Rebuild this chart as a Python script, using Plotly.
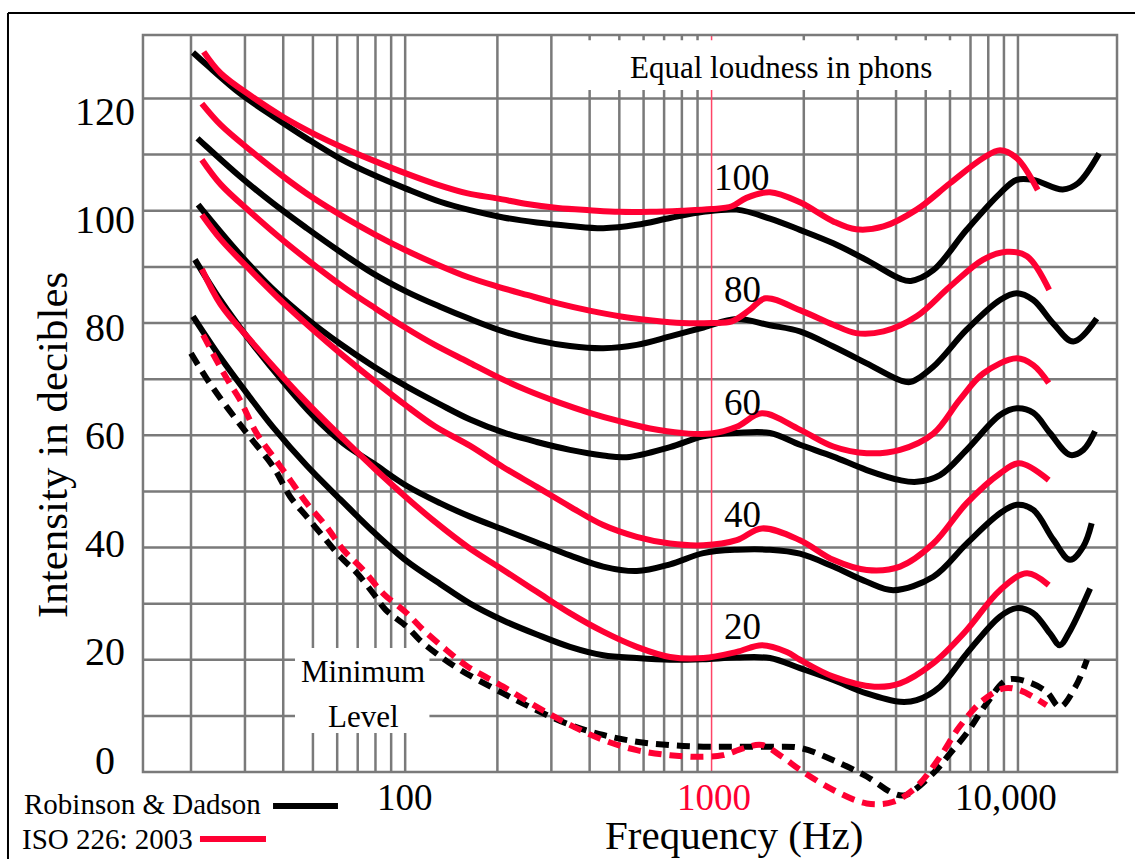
import math
import plotly.graph_objects as go

# ---------------- data ----------------
# Robinson & Dadson contours (black), frequency in Hz, level in dB
rd100_f = [20.3, 22.5, 28.9, 37.1, 47.7, 61.3, 78.7, 101, 130, 163, 209, 269, 345, 443, 570, 732, 940, 1208, 1551, 1943, 2496, 3208, 4122, 4470, 5290, 6800, 8740, 9900, 11220, 14000, 15700, 18400]
rd100_db = [128.2, 126.0, 120.9, 116.8, 112.9, 109.3, 106.4, 103.9, 101.6, 100.1, 98.8, 97.9, 97.3, 96.9, 97.5, 98.7, 99.8, 100.2, 98.6, 96.6, 94.2, 91.2, 87.9, 87.5, 89.4, 96.6, 103.1, 105.5, 105.5, 103.8, 104.9, 110.2]

rd80_f = [21.0, 22.5, 28.9, 37.1, 47.7, 61.3, 78.7, 101, 130, 163, 209, 269, 345, 443, 570, 732, 940, 1208, 1551, 1943, 2496, 3208, 4122, 4470, 5290, 6800, 8740, 9900, 11220, 13040, 15160, 18070]
rd80_db = [112.9, 111.4, 106.1, 101.3, 96.9, 92.7, 88.8, 85.6, 82.9, 80.7, 78.5, 76.9, 75.9, 75.5, 76.1, 77.6, 79.2, 80.7, 79.6, 78.5, 75.8, 72.8, 69.8, 69.5, 72.2, 78.8, 84.1, 85.3, 84.1, 79.9, 76.7, 80.8]

rd60_f = [21.1, 22.5, 28.9, 37.1, 47.7, 61.3, 78.7, 101, 130, 163, 209, 269, 345, 443, 528, 732, 940, 1208, 1551, 1943, 2496, 3208, 4122, 4671, 5566, 6802, 8736, 9904, 11220, 12720, 14790, 16350, 17840]
rd60_db = [101.1, 99.2, 92.2, 86.0, 80.8, 76.3, 72.3, 68.7, 65.5, 62.8, 60.5, 58.8, 57.4, 56.4, 56.1, 57.9, 59.8, 60.4, 60.4, 58.3, 56.2, 53.8, 52.0, 51.7, 52.9, 57.4, 63.6, 64.8, 64.0, 60.4, 56.5, 57.4, 60.7]

rd40_f = [20.6, 25, 31.5, 40, 50, 63, 78.7, 101, 130, 163, 209, 269, 345, 443, 570, 732, 940, 1208, 1551, 1943, 2496, 3208, 3920, 5293, 6802, 8736, 9904, 11220, 13040, 14790, 16350, 17400]
rd40_db = [91.3, 84.0, 76.5, 69.5, 63.5, 58.5, 55.0, 51.0, 47.9, 45.5, 43.2, 40.9, 38.6, 36.6, 35.8, 37.0, 39.0, 39.6, 39.6, 38.9, 36.6, 33.9, 32.4, 34.8, 40.7, 46.1, 47.6, 46.7, 41.4, 37.8, 40.2, 44.3]

rd20_f = [20.3, 25, 31.1, 37.1, 47.7, 61.3, 69.7, 78.7, 101, 130, 163, 209, 269, 345, 443, 570, 732, 940, 1208, 1551, 1943, 2496, 3208, 4122, 4671, 5566, 6802, 8736, 9904, 11220, 12720, 13700, 14630, 17200]
rd20_db = [81.2, 73.8, 66.8, 61.4, 54.6, 48.6, 45.6, 42.8, 37.6, 33.5, 30.0, 27.0, 24.5, 22.3, 20.8, 20.3, 20.0, 20.1, 20.4, 20.3, 18.5, 16.4, 14.0, 12.5, 12.8, 15.2, 21.1, 27.7, 29.2, 28.3, 24.7, 22.6, 24.7, 32.7]

rd_min_f = [20, 22.5, 25, 28.2, 31.1, 37.1, 42.2, 47.7, 54.1, 61.3, 69.7, 78.7, 86.4, 101.2, 111.6, 126.5, 151.2, 209, 269, 345, 443, 570, 732, 940, 1208, 1551, 1943, 2496, 3208, 3920, 4300, 5293, 6000, 6802, 7900, 9200, 10700, 12400, 13700, 15400, 16800]
rd_min_db = [74.6, 70.1, 66.5, 62.7, 59.7, 54.4, 49.0, 45.5, 41.9, 38.4, 35.4, 31.8, 28.9, 25.9, 23.5, 21.1, 18.2, 14.0, 11.0, 8.4, 6.6, 5.4, 4.8, 4.5, 4.5, 4.5, 4.3, 2.1, -0.8, -3.8, -4.1, -0.2, 3.3, 6.9, 12.2, 16.4, 16.1, 14.3, 11.6, 15.2, 20.0]

# ISO 226:2003 contours (red)
iso100_f = [22, 25, 31.5, 40, 50, 63, 80, 100, 125, 160, 200, 250, 315, 400, 500, 630, 800, 1000, 1165, 1300, 1551, 1943, 2496, 2960, 3640, 4670, 6000, 7700, 8740, 9900, 11600]
iso100_db = [128.3, 124.5, 120.4, 116.7, 113.8, 111.2, 108.8, 106.7, 104.8, 103.1, 102.2, 101.2, 100.5, 100.1, 99.8, 99.8, 100.0, 100.3, 100.8, 102.3, 103.3, 101.5, 98.1, 96.7, 97.2, 100.2, 104.9, 109.4, 110.8, 109.4, 103.7]

iso80_f = [21.7, 25, 31.5, 40, 50, 63, 80, 100, 125, 160, 200, 250, 315, 400, 500, 630, 800, 1000, 1165, 1330, 1500, 1943, 2496, 2960, 3640, 4670, 6000, 7700, 9190, 10700, 12640]
iso80_db = [119.1, 115.3, 110.6, 106.1, 102.3, 98.9, 95.7, 93.0, 90.6, 88.2, 86.5, 85.0, 83.5, 82.2, 81.2, 80.5, 80.0, 80.0, 80.3, 82.3, 84.4, 82.3, 79.7, 78.2, 78.5, 81.2, 86.5, 91.3, 92.7, 91.9, 85.9]

iso60_f = [21.7, 25, 31.5, 40, 50, 63, 80, 100, 125, 160, 200, 250, 315, 400, 500, 630, 800, 1000, 1208, 1460, 1943, 2496, 3208, 4122, 5293, 6450, 7700, 9900, 11220, 12600]
iso60_db = [109.1, 104.7, 99.6, 94.7, 90.5, 86.4, 82.6, 79.2, 76.1, 73.1, 70.4, 68.0, 65.9, 64.0, 62.5, 61.2, 60.4, 60.3, 61.5, 63.9, 61.0, 58.0, 56.8, 57.4, 60.3, 66.3, 71.0, 73.7, 72.5, 69.3]

iso40_f = [21.7, 25, 31.5, 40, 50, 63, 80, 100, 125, 163, 209, 269, 345, 443, 570, 732, 940, 1208, 1460, 1943, 2496, 3208, 4122, 5293, 6802, 8736, 10100, 12600]
iso40_db = [99.3, 94.9, 89.2, 83.6, 78.8, 74.1, 69.5, 65.4, 61.6, 58.1, 54.3, 50.8, 47.3, 44.0, 41.9, 40.7, 40.4, 41.3, 43.4, 41.3, 37.8, 36.0, 36.6, 40.7, 47.9, 53.2, 55.0, 52.0]

iso20_f = [21.7, 25, 31.5, 40, 50, 63, 80, 100, 125, 160, 209, 269, 345, 443, 570, 732, 940, 1208, 1460, 1760, 1943, 2496, 3400, 4122, 5293, 6802, 8736, 10700, 12600]
iso20_db = [89.6, 83.3, 76.7, 70.3, 64.7, 59.3, 53.9, 49.1, 44.6, 40.1, 36.0, 32.1, 28.3, 25.0, 22.3, 20.5, 20.3, 21.4, 22.6, 21.4, 20.0, 17.0, 15.2, 15.8, 19.4, 25.3, 32.4, 35.4, 33.3]

iso_min_f = [21.9, 24.2, 26.7, 28.9, 32.8, 37.1, 42.2, 47.7, 55.4, 62.8, 73.0, 84.8, 101.2, 114.6, 136.6, 158.8, 209, 269, 345, 443, 570, 732, 940, 1090, 1268, 1460, 1700, 1943, 2496, 3208, 3920, 4671, 5566, 6450, 7700, 8970, 10100, 12400]
iso_min_db = [77.9, 73.4, 69.3, 66.3, 60.3, 56.2, 52.0, 47.9, 43.7, 39.6, 36.0, 31.8, 28.3, 25.3, 21.7, 18.9, 15.2, 11.6, 8.4, 5.7, 3.9, 3.0, 2.7, 3.0, 4.2, 4.8, 2.7, 0.4, -3.2, -5.6, -5.3, -2.6, 2.7, 8.1, 12.8, 14.9, 14.6, 11.9]

phon_labels = [100, 80, 60, 40, 20]
y_tick_vals = [0, 20, 40, 60, 80, 100, 120]
x_tick_vals = [100, 1000, 10000]
x_tick_text = ["100", "1000", "10,000"]
grid_db = [10, 20, 30, 40, 50, 60, 70, 80, 90, 100, 110, 120]
grid_freqs = [20, 30, 40, 50, 60, 70, 80, 90, 100,
              200, 300, 400, 500, 600, 700, 800, 900,
              2000, 3000, 4000, 5000, 6000, 7000, 8000, 9000, 10000]

# ---------------- styling ----------------
BLACK = "#000000"
RED = "#ff0033"
GRID = "#7a7a7a"
FONT = "Liberation Serif, Times New Roman, serif"
F_LO, F_HI = 13.94, 21050     # frequency extent of the framed grid
DB_TOP = 131.3                # top of the framed grid

fig = go.Figure()


def add_curve(f, db, color, dash=None, width=6):
    fig.add_trace(go.Scatter(
        x=f, y=db, mode="lines",
        line=dict(color=color, width=width, dash=dash, shape="spline", smoothing=1.0),
        hoverinfo="skip", showlegend=False))


for f, db in [(rd100_f, rd100_db), (rd80_f, rd80_db), (rd60_f, rd60_db),
              (rd40_f, rd40_db), (rd20_f, rd20_db)]:
    add_curve(f, db, BLACK)
for f, db in [(iso100_f, iso100_db), (iso80_f, iso80_db), (iso60_f, iso60_db),
              (iso40_f, iso40_db), (iso20_f, iso20_db)]:
    add_curve(f, db, RED)
add_curve(rd_min_f, rd_min_db, BLACK, dash="13px,8px", width=6)
add_curve(iso_min_f, iso_min_db, RED, dash="13px,8px", width=6)

# ---------------- grid (shapes below traces) ----------------
shapes = []
for d in grid_db:
    shapes.append(dict(type="line", xref="x", yref="y", x0=F_LO, x1=F_HI, y0=d, y1=d,
                       line=dict(color=GRID, width=2.5), layer="below"))
for fq in grid_freqs:
    shapes.append(dict(type="line", xref="x", yref="y", x0=fq, x1=fq, y0=0, y1=DB_TOP,
                       line=dict(color=GRID, width=2.5), layer="below"))
shapes.append(dict(type="line", xref="x", yref="y", x0=1000, x1=1000, y0=0, y1=DB_TOP,
                   line=dict(color="#ff4466", width=1.5), layer="below"))
shapes.append(dict(type="rect", xref="x", yref="y", x0=F_LO, x1=F_HI, y0=0, y1=DB_TOP,
                   line=dict(color=GRID, width=2.5), layer="below"))
# white label backgrounds
shapes.append(dict(type="rect", xref="x", yref="y", x0=388, x1=6500, y0=121.5, y1=130.4,
                   fillcolor="white", line=dict(width=0), layer="below"))
shapes.append(dict(type="rect", xref="x", yref="y", x0=43.7, x1=120, y0=6.95, y1=22.1,
                   fillcolor="white", line=dict(width=0), layer="below"))
# outer frame
shapes.append(dict(type="line", xref="paper", yref="paper", x0=-0.1360, x1=-0.1360, y0=-0.02, y1=1.0242,
                   line=dict(color="black", width=2), layer="above"))
shapes.append(dict(type="line", xref="paper", yref="paper", x0=-0.1360, x1=1.03, y0=1.0242, y1=1.0242,
                   line=dict(color="black", width=2), layer="above"))
# legend swatches
shapes.append(dict(type="line", xref="paper", yref="paper", x0=0.1350, x1=0.2014, y0=0.0642, y1=0.0642,
                   line=dict(color=BLACK, width=6), layer="above"))
shapes.append(dict(type="line", xref="paper", yref="paper", x0=0.0603, x1=0.1278, y0=0.0242, y1=0.0242,
                   line=dict(color=RED, width=6), layer="above"))

# ---------------- text ----------------
ann = []
for v in y_tick_vals:
    ann.append(dict(x=-0.0368, xref="paper", y=2.13 + 0.9627 * v, yref="y", text=str(v),
                    showarrow=False, xanchor="center", yanchor="middle",
                    font=dict(family=FONT, size=40, color="black")))
x_shift = [0, 2, -12]
x_col = ["black", RED, "black"]
for v, t, s, c in zip(x_tick_vals, x_tick_text, x_shift, x_col):
    ann.append(dict(x=math.log10(v), xref="x", y=0.0745, yref="paper", text=t, xshift=s,
                    showarrow=False, xanchor="center", yanchor="middle",
                    font=dict(family=FONT, size=37, color=c)))
for p in phon_labels:
    ann.append(dict(x=math.log10(1257), xref="x", y=p + 5.9, yref="y", text=str(p),
                    showarrow=False, xanchor="center", yanchor="middle",
                    font=dict(family=FONT, size=37, color="black")))
ann += [
    dict(x=0.6063, y=0.0290, xref="paper", yref="paper", text="Frequency (Hz)", showarrow=False,
         xanchor="center", yanchor="middle", font=dict(family=FONT, size=41, color="black")),
    dict(x=-0.0910, y=0.5012, xref="paper", yref="paper", text="Intensity in decibles", showarrow=False,
         textangle=-90, xanchor="center", yanchor="middle", font=dict(family=FONT, size=43, color="black")),
    dict(x=0.6544, y=0.9588, xref="paper", yref="paper", text="Equal loudness in phons", showarrow=False,
         xanchor="center", yanchor="middle", font=dict(family=FONT, size=31, color="black")),
    dict(x=0.2270, y=0.2264, xref="paper", yref="paper", text="Minimum", showarrow=False,
         xanchor="center", yanchor="middle", font=dict(family=FONT, size=31, color="black")),
    dict(x=0.2270, y=0.1731, xref="paper", yref="paper", text="Level", showarrow=False,
         xanchor="center", yanchor="middle", font=dict(family=FONT, size=31, color="black")),
    dict(x=-0.1217, y=0.0666, xref="paper", yref="paper", text="Robinson &amp; Dadson", showarrow=False,
         xanchor="left", yanchor="middle", font=dict(family=FONT, size=29, color="black")),
    dict(x=-0.1237, y=0.0242, xref="paper", yref="paper", text="ISO 226: 2003", showarrow=False,
         xanchor="left", yanchor="middle", font=dict(family=FONT, size=29, color="black")),
]

fig.update_layout(
    width=1135, height=859,
    margin=dict(l=141, r=16, t=33, b=0),
    paper_bgcolor="white", plot_bgcolor="white",
    showlegend=False,
    xaxis=dict(type="log", range=[1.13784, 4.32975], showgrid=False, zeroline=False,
               showticklabels=False, ticks="", showline=False),
    yaxis=dict(range=[-15.50, 131.67], showgrid=False, zeroline=False,
               showticklabels=False, ticks="", showline=False),
    shapes=shapes, annotations=ann,
)

fig.write_html("out.html", config={"displayModeBar": False},
               post_script="document.body.style.margin='0px';")
